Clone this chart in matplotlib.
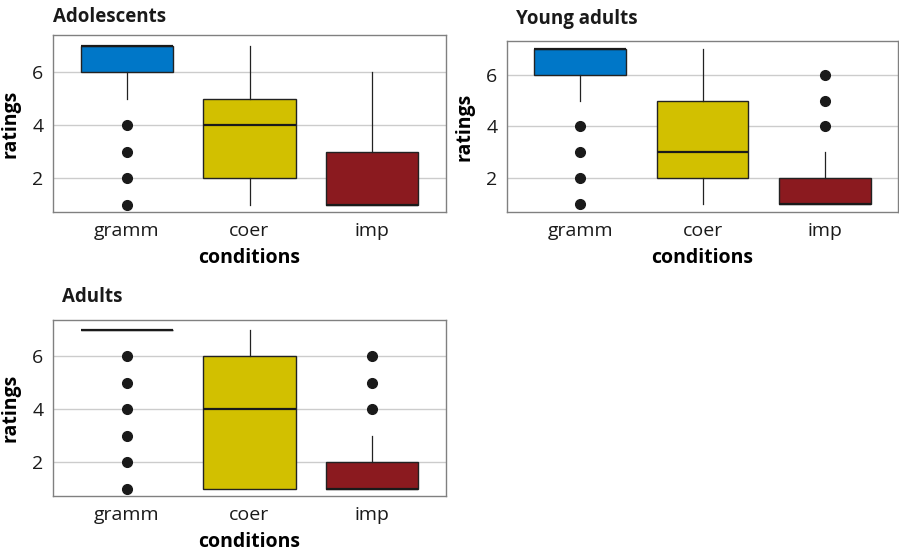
import matplotlib
matplotlib.use("Agg")
import matplotlib.pyplot as plt

plt.rcParams['font.family'] = ['Open Sans', 'DejaVu Sans']

conditions = ["gramm", "coer", "imp"]
colors = ["#0077c8", "#d2c000", "#8b1a1f"]

# precomputed box stats: (q1, median, q3, whisker low, whisker high, outliers)
adolescents = [
    (6, 7, 7, 5, 7, [4, 3, 2, 1]),
    (2, 4, 5, 1, 7, []),
    (1, 1, 3, 1, 6, []),
]
young_adults = [
    (6, 7, 7, 5, 7, [4, 3, 2, 1]),
    (2, 3, 5, 1, 7, []),
    (1, 1, 2, 1, 3, [4, 5, 6]),
]
adults = [
    (7, 7, 7, 7, 7, [6, 5, 4, 3, 2, 1]),
    (1, 4, 6, 1, 7, []),
    (1, 1, 2, 1, 3, [4, 5, 6]),
]

W, H = 899, 551
fig = plt.figure(figsize=(W / 100, H / 100), dpi=100)


def px_axes(left, top, right, bottom):
    return fig.add_axes([left / W, 1 - bottom / H, (right - left) / W, (bottom - top) / H])


def draw_panel(ax, stats, title, title_x, title_y, ylim):
    bstats = []
    for q1, med, q3, lo, hi, fl in stats:
        bstats.append(dict(q1=q1, med=med, q3=q3, whislo=lo, whishi=hi, fliers=fl))
    bp = ax.bxp(bstats, positions=range(len(conditions)), widths=0.75,
                patch_artist=True, showcaps=False,
                boxprops=dict(edgecolor="#222222", linewidth=1.0),
                medianprops=dict(color="#1a1a1a", linewidth=1.6),
                whiskerprops=dict(color="#222222", linewidth=0.9),
                flierprops=dict(marker="o", markerfacecolor="#1a1a1a",
                                markeredgecolor="#1a1a1a", markersize=7))
    for patch, c in zip(bp["boxes"], colors):
        patch.set_facecolor(c)
    ax.set_xlim(-0.6, 2.6)
    ax.set_ylim(*ylim)
    ax.set_yticks([2, 4, 6])
    ax.set_xticks(range(len(conditions)))
    ax.set_xticklabels(conditions)
    ax.tick_params(length=0, labelsize=14, colors="#1a1a1a", pad=7)
    ax.grid(axis="y", color="#cccccc", linewidth=1.0)
    ax.set_axisbelow(True)
    for s in ax.spines.values():
        s.set_color("#808080")
        s.set_linewidth(1.0)
    ax.set_ylabel("ratings", fontsize=14, fontweight="bold", labelpad=8)
    ax.set_xlabel("conditions", fontsize=14, fontweight="bold", labelpad=6)
    fig.text(title_x / W, 1 - title_y / H, title, fontsize=13.5, fontweight="bold",
             va="center", ha="left", color="#1a1a1a")


ax1 = px_axes(53, 35, 446, 212)
draw_panel(ax1, adolescents, "Adolescents", 53, 17, (0.72, 7.4))

ax2 = px_axes(507, 41, 898, 212)
draw_panel(ax2, young_adults, "Young adults", 516, 19, (0.69, 7.3))

ax3 = px_axes(53, 320, 446, 496)
draw_panel(ax3, adults, "Adults", 62, 297, (0.72, 7.36))

fig.savefig("out.png", dpi=100)
